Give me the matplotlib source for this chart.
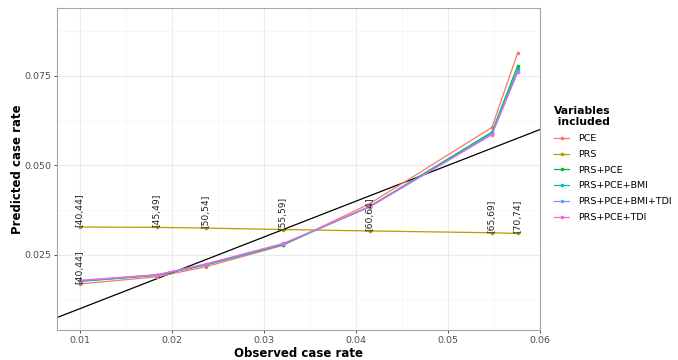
import matplotlib
matplotlib.use("Agg")
import matplotlib.pyplot as plt
from matplotlib.lines import Line2D

# observed case rate per age band
age_bands = ["[40,44]", "[45,49]", "[50,54]", "[55,59]", "[60,64]", "[65,69]", "[70,74]"]
observed = [0.0100, 0.0184, 0.0237, 0.0321, 0.0415, 0.0548, 0.0576]

models = ["PCE", "PRS", "PRS+PCE", "PRS+PCE+BMI", "PRS+PCE+BMI+TDI", "PRS+PCE+TDI"]
predicted = {
    "PCE":             [0.0169, 0.0189, 0.0217, 0.0277, 0.0393, 0.0606, 0.0814],
    "PRS":             [0.0328, 0.0327, 0.0325, 0.0321, 0.0317, 0.0312, 0.0310],
    "PRS+PCE":         [0.0176, 0.0193, 0.0222, 0.0279, 0.0385, 0.0593, 0.0778],
    "PRS+PCE+BMI":     [0.0177, 0.0194, 0.0223, 0.0280, 0.0385, 0.0590, 0.0768],
    "PRS+PCE+BMI+TDI": [0.0178, 0.0194, 0.0224, 0.0281, 0.0384, 0.0587, 0.0761],
    "PRS+PCE+TDI":     [0.0179, 0.0195, 0.0225, 0.0282, 0.0384, 0.0586, 0.0760],
}
colors = ["#F8766D", "#B79F00", "#00BA38", "#00BFC4", "#619CFF", "#F564E3"]

# labels that survive ggplot's overlap check: (model, band index)
shown_labels = [("PCE", 0)] + [("PRS", i) for i in range(len(age_bands))]

GRID = "#ebebeb"
TXT = "#4d4d4d"

fig = plt.figure(figsize=(6.78, 3.6), dpi=100)
ax = fig.add_axes([0.084, 0.083, 0.712, 0.895])

ax.set_xlim(0.0075, 0.060)
ax.set_ylim(0.0040, 0.0940)
ax.set_xticks([0.01, 0.02, 0.03, 0.04, 0.05, 0.06])
ax.set_xticklabels(["0.01", "0.02", "0.03", "0.04", "0.05", "0.06"])
ax.set_yticks([0.025, 0.050, 0.075])
ax.set_yticklabels(["0.025", "0.050", "0.075"])
ax.set_xticks([0.015, 0.025, 0.035, 0.045, 0.055], minor=True)
ax.set_yticks([0.0125, 0.0375, 0.0625, 0.0875], minor=True)
ax.grid(which="major", color=GRID, lw=0.8)
ax.grid(which="minor", color="#f4f4f4", lw=0.5)
ax.set_axisbelow(True)
ax.tick_params(which="major", labelsize=6.8, labelcolor=TXT, color="#333333",
               length=2.5, width=0.6, pad=1.5)
ax.tick_params(which="minor", length=0)
for s in ax.spines.values():
    s.set_color("#a6a6a6")
    s.set_linewidth(0.8)

ax.axline((0, 0), slope=1, color="black", lw=0.9, zorder=2)

for name, c in zip(models, colors):
    ax.plot(observed, predicted[name], color=c, lw=0.9, marker="o", ms=1.6, zorder=3)

for name, i in shown_labels:
    ax.text(observed[i], predicted[name][i], age_bands[i], rotation=90,
            ha="center", va="bottom", fontsize=6.6, color="#222222", zorder=4)

ax.set_xlabel("Observed case rate", fontsize=8.5, fontweight="bold")
ax.set_ylabel("Predicted case rate", fontsize=8.5, fontweight="bold")
ax.xaxis.set_label_coords(0.5, -0.052)
ax.yaxis.set_label_coords(-0.068, 0.5)

handles = [Line2D([0], [0], color=c, lw=0.9, marker="o", ms=1.6) for c in colors]
leg = fig.legend(handles, models, title="Variables\n included", loc="upper left",
                 bbox_to_anchor=(0.805, 0.73), frameon=False, fontsize=6.8,
                 title_fontsize=7.8, handlelength=1.6, labelspacing=0.72,
                 handletextpad=0.9)
leg.get_title().set_fontweight("bold")
leg._legend_box.align = "left"

fig.savefig("out.png", dpi=100)
